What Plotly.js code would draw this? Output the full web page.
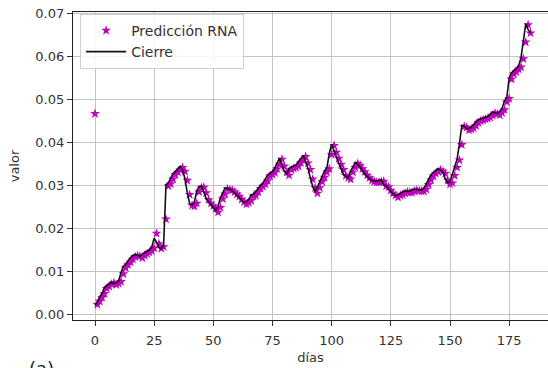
<!DOCTYPE html>
<html>
<head>
<meta charset="utf-8">
<script src="https://cdn.plot.ly/plotly-3.0.1.min.js"></script>
<style>
  html, body { margin: 0; padding: 0; background: #fff; overflow: hidden; }
  #chart { width: 548px; height: 368px; }
</style>
</head>
<body>
<div id="chart"></div>
<script>
// Precio de cierre diario
const cierre = [
  0.0022, 0.0030, 0.0042, 0.0050, 0.0064, 0.0068, 0.0074, 0.0076, 0.0072, 0.0075,
  0.0079, 0.0098, 0.0113, 0.0118, 0.0126, 0.0133, 0.0138, 0.0140, 0.0139, 0.0135,
  0.0141, 0.0144, 0.0148, 0.0151, 0.0158, 0.0178, 0.0168, 0.0157, 0.0153, 0.0165,
  0.0302, 0.0306, 0.0318, 0.0328, 0.0333, 0.0338, 0.0345, 0.0336, 0.0316, 0.0283,
  0.0258, 0.0255, 0.0262, 0.0288, 0.0298, 0.0299, 0.0286, 0.0270, 0.0262, 0.0256,
  0.0250, 0.0242, 0.0252, 0.0272, 0.0283, 0.0295, 0.0293, 0.0292, 0.0288, 0.0283,
  0.0278, 0.0271, 0.0266, 0.0260, 0.0263, 0.0268, 0.0279, 0.0280, 0.0288, 0.0296,
  0.0301, 0.0306, 0.0314, 0.0325, 0.0329, 0.0333, 0.0342, 0.0352, 0.0364, 0.0348,
  0.0334, 0.0327, 0.0340, 0.0343, 0.0345, 0.0348, 0.0356, 0.0362, 0.0370, 0.0355,
  0.0340, 0.0318, 0.0298, 0.0285, 0.0298, 0.0312, 0.0322, 0.0334, 0.0342, 0.0375,
  0.0396, 0.0380, 0.0366, 0.0352, 0.0340, 0.0326, 0.0321, 0.0318, 0.0334, 0.0345,
  0.0354, 0.0350, 0.0342, 0.0335, 0.0327, 0.0321, 0.0315, 0.0312, 0.0310, 0.0311,
  0.0312, 0.0313, 0.0302, 0.0300, 0.0292, 0.0285, 0.0280, 0.0276, 0.0280, 0.0282,
  0.0285, 0.0288, 0.0287, 0.0287, 0.0290, 0.0292, 0.0291, 0.0290, 0.0290, 0.0294,
  0.0305, 0.0316, 0.0325, 0.0331, 0.0335, 0.0339, 0.0336, 0.0331, 0.0316, 0.0306,
  0.0309, 0.0326, 0.0345, 0.0362, 0.0398, 0.0440, 0.0438, 0.0432, 0.0433, 0.0436,
  0.0442, 0.0449, 0.0453, 0.0455, 0.0457, 0.0459, 0.0461, 0.0466, 0.0471, 0.0469,
  0.0467, 0.0472, 0.0479, 0.0497, 0.0505, 0.0550, 0.0562, 0.0567, 0.0573, 0.0578,
  0.0597, 0.0636, 0.0676, 0.0662, 0.0655
];

// Valores estimados por la red neuronal
const prediccion = [
  0.0467, 0.0024, 0.0031, 0.0040, 0.0049, 0.0061, 0.0066, 0.0071, 0.0074, 0.0070,
  0.0073, 0.0077, 0.0095, 0.0109, 0.0116, 0.0122, 0.0129, 0.0135, 0.0137, 0.0136,
  0.0132, 0.0138, 0.0141, 0.0145, 0.0148, 0.0155, 0.0189, 0.0165, 0.0154, 0.0158,
  0.0222, 0.0299, 0.0304, 0.0315, 0.0325, 0.0331, 0.0336, 0.0342, 0.0333, 0.0312,
  0.0279, 0.0254, 0.0252, 0.0259, 0.0285, 0.0295, 0.0296, 0.0283, 0.0267, 0.0259,
  0.0253, 0.0246, 0.0238, 0.0249, 0.0269, 0.0280, 0.0292, 0.0290, 0.0289, 0.0285,
  0.0280, 0.0275, 0.0268, 0.0262, 0.0257, 0.0260, 0.0265, 0.0276, 0.0277, 0.0285,
  0.0293, 0.0298, 0.0303, 0.0311, 0.0322, 0.0326, 0.0330, 0.0339, 0.0349, 0.0361,
  0.0345, 0.0331, 0.0324, 0.0337, 0.0340, 0.0342, 0.0345, 0.0353, 0.0359, 0.0367,
  0.0352, 0.0337, 0.0315, 0.0295, 0.0282, 0.0295, 0.0309, 0.0319, 0.0331, 0.0339,
  0.0372, 0.0393, 0.0377, 0.0363, 0.0349, 0.0337, 0.0323, 0.0318, 0.0315, 0.0331,
  0.0342, 0.0351, 0.0347, 0.0339, 0.0332, 0.0324, 0.0318, 0.0312, 0.0309, 0.0307,
  0.0308, 0.0309, 0.0310, 0.0299, 0.0297, 0.0289, 0.0282, 0.0277, 0.0273, 0.0277,
  0.0279, 0.0282, 0.0285, 0.0284, 0.0284, 0.0287, 0.0289, 0.0288, 0.0287, 0.0287,
  0.0291, 0.0302, 0.0313, 0.0322, 0.0328, 0.0332, 0.0336, 0.0333, 0.0328, 0.0313,
  0.0303, 0.0306, 0.0323, 0.0342, 0.0359, 0.0395, 0.0437, 0.0435, 0.0429, 0.0430,
  0.0433, 0.0439, 0.0446, 0.0450, 0.0452, 0.0454, 0.0456, 0.0458, 0.0463, 0.0468,
  0.0466, 0.0464, 0.0469, 0.0476, 0.0494, 0.0502, 0.0547, 0.0559, 0.0564, 0.0570,
  0.0575, 0.0594, 0.0633, 0.0673, 0.0654
];

const dias = cierre.map((_, i) => i);
const xTicks = [0, 25, 50, 75, 100, 125, 150, 175];
const yTicks = [0.00, 0.01, 0.02, 0.03, 0.04, 0.05, 0.06, 0.07];

const fontFamily = 'DejaVu Sans, sans-serif';
const textColor = '#333333';
const gridColor = '#c4c4c4';

const traces = [
  {
    x: dias, y: prediccion,
    name: 'Predicción RNA',
    type: 'scatter', mode: 'markers',
    marker: { symbol: 'star', size: 7.5, color: '#bf00bf', line: { width: 0 } }
  },
  {
    x: dias, y: cierre,
    name: 'Cierre',
    type: 'scatter', mode: 'lines',
    line: { color: '#111111', width: 1.6 }
  }
];

const layout = {
  width: 548, height: 368,
  margin: { l: 73, r: 0, t: 12, b: 48 },
  paper_bgcolor: '#ffffff', plot_bgcolor: '#ffffff',
  font: { family: fontFamily, size: 13, color: textColor },
  showlegend: true,
  legend: {
    x: 0.015, y: 0.994, xanchor: 'left', yanchor: 'top',
    bgcolor: 'rgba(255,255,255,0.85)',
    bordercolor: '#d0d0d0', borderwidth: 1,
    font: { family: fontFamily, size: 14, color: textColor },
    itemwidth: 40
  },
  xaxis: {
    range: [-9.3, 191.4],
    tickmode: 'array', tickvals: xTicks,
    ticks: 'outside', ticklen: 5, tickcolor: '#333', tickwidth: 1,
    ticklabelstandoff: 3,
    showgrid: true, gridcolor: gridColor, gridwidth: 1,
    zeroline: false,
    showline: true, linecolor: '#222', linewidth: 1.2, mirror: true,
    title: { text: 'días', font: { size: 13, color: textColor }, standoff: 6 }
  },
  yaxis: {
    range: [-0.0012, 0.0703],
    tickmode: 'array', tickvals: yTicks, tickformat: '.2f',
    ticks: 'outside', ticklen: 5, tickcolor: '#333', tickwidth: 1,
    showgrid: true, gridcolor: gridColor, gridwidth: 1,
    zeroline: false,
    showline: true, linecolor: '#222', linewidth: 1.2, mirror: false,
    title: { text: 'valor', font: { size: 13, color: textColor }, standoff: 12 }
  },
  annotations: [
    {
      text: '(a)', xref: 'paper', yref: 'paper',
      x: -0.097, y: -0.118, xanchor: 'left', yanchor: 'top',
      showarrow: false, font: { family: fontFamily, size: 18, color: '#222' }
    }
  ]
};

Plotly.newPlot('chart', traces, layout, { staticPlot: true, displayModeBar: false });
</script>
</body>
</html>
